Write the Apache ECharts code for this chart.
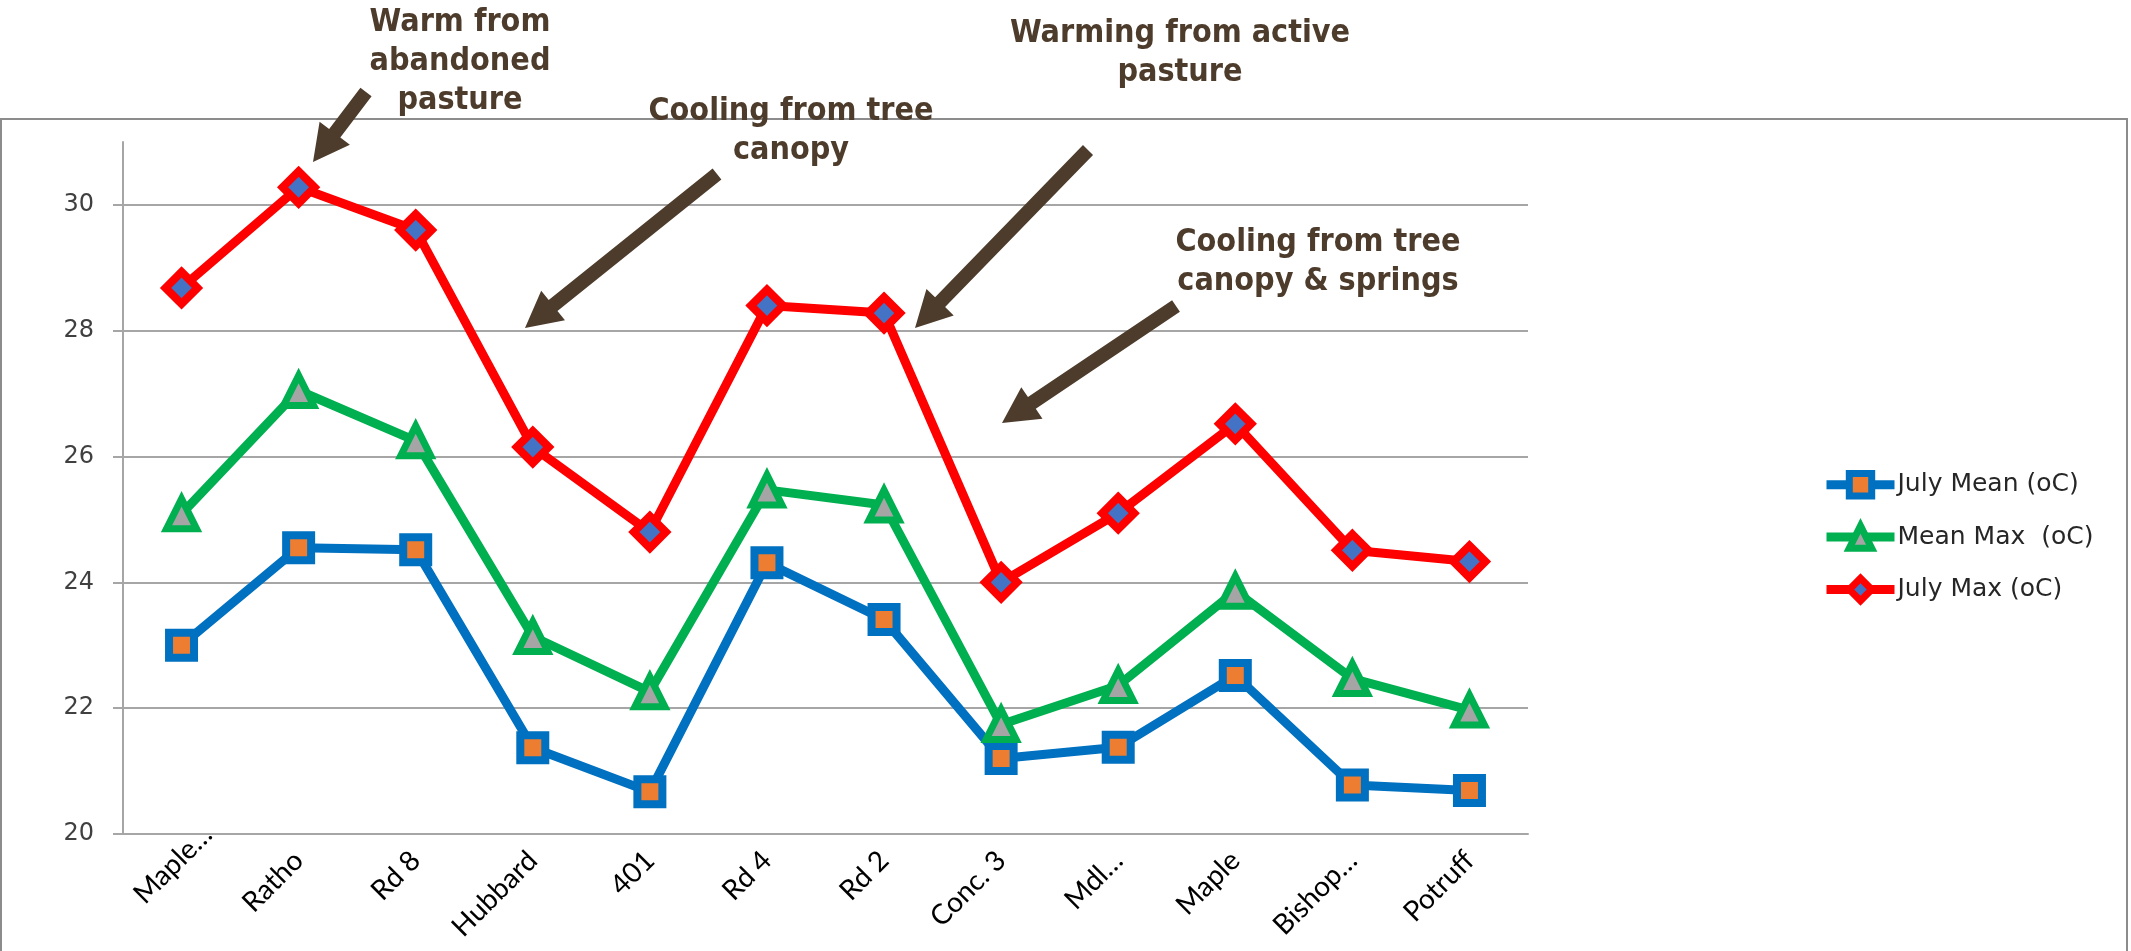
<!DOCTYPE html>
<html>
<head>
<meta charset="utf-8">
<title>July stream temperatures</title>
<script src="https://cdn.jsdelivr.net/npm/echarts@6/dist/echarts.min.js"></script>
<style>
  html, body { margin: 0; padding: 0; background: #fff; }
  #chart { width: 2131px; height: 951px; }
</style>
</head>
<body>
<div id="chart"></div>
<script>
// sites along the creek
var sites = ['Maple…', 'Ratho', 'Rd 8', 'Hubbard', '401', 'Rd 4', 'Rd 2', 'Conc. 3', 'Mdl…', 'Maple', 'Bishop…', 'Potruff']
var julyMean = [23.0, 24.55, 24.52, 21.37, 20.67, 24.31, 23.41, 21.2, 21.38, 22.52, 20.78, 20.69]
var meanMax = [25.09, 27.05, 26.25, 23.14, 22.26, 25.47, 25.23, 21.74, 22.36, 23.86, 22.47, 21.97]
var julyMax = [28.68, 30.28, 29.6, 26.15, 24.8, 28.4, 28.28, 24.0, 25.1, 26.52, 24.51, 24.33]
var yTicks = [20, 22, 24, 26, 28, 30]

var brown = '#4d3c2c'
var noteFont = 'bold 32px "DejaVu Sans Condensed"'

// arrow polygon from tail to tip (pixels)
function arrow(x1, y1, x2, y2) {
  var len = Math.hypot(x2 - x1, y2 - y1)
  var ux = (x2 - x1) / len
  var uy = (y2 - y1) / len
  var px = -uy
  var py = ux
  var hl = 36, hw = 19, sw = 7
  var bx = x2 - ux * hl
  var by = y2 - uy * hl
  return {
    type: 'polygon',
    shape: {
      points: [
        [x1 + px * sw, y1 + py * sw],
        [bx + px * sw, by + py * sw],
        [bx + px * hw, by + py * hw],
        [x2, y2],
        [bx - px * hw, by - py * hw],
        [bx - px * sw, by - py * sw],
        [x1 - px * sw, y1 - py * sw]
      ]
    },
    style: { fill: brown },
    z: 10
  }
}

function note(text, x, y) {
  return {
    type: 'text',
    x: x,
    y: y,
    style: {
      text: text,
      font: noteFont,
      fill: brown,
      align: 'center',
      lineHeight: 39
    },
    z: 10
  }
}

// the first (truncated) label sits a bit further up the slope in the original
var xData = sites.map(function(name, i) {
  if (i === 0) {
    return { value: name, textStyle: { padding: [0, 24, 0, 0], align: 'center' } }
  }
  return name
})

var chart = echarts.init(document.getElementById('chart'))

chart.setOption({
  animation: false,
  backgroundColor: '#fff',
  grid: {
    left: 123,
    right: 603,
    top: 142,
    bottom: 117
  },
  legend: {
    orient: 'vertical',
    left: 1822,
    top: 470,
    padding: 0,
    itemWidth: 68,
    itemHeight: 28,
    itemGap: 23,
    textStyle: {
      fontFamily: 'DejaVu Sans',
      fontSize: 25,
      color: '#262626',
      padding: [0, 0, 0, -2]
    },
    lineStyle: { width: 9 },
    itemStyle: { borderWidth: 7 },
    data: ['July Mean (oC)', 'Mean Max  (oC)', 'July Max (oC)']
  },
  xAxis: {
    type: 'category',
    data: xData,
    boundaryGap: true,
    axisLine: { lineStyle: { color: '#a6a6a6', width: 2 } },
    axisTick: { length: 10, lineStyle: { color: '#a6a6a6', width: 2 } },
    axisLabel: {
      interval: 0,
      rotate: 45,
      margin: 22,
      fontFamily: 'Lato',
      fontSize: 28,
      color: '#000'
    }
  },
  yAxis: {
    type: 'value',
    min: 20,
    max: 31,
    interval: 2,
    axisLine: { show: true, lineStyle: { color: '#a6a6a6', width: 2 } },
    axisTick: { show: true, length: 10, customValues: yTicks, lineStyle: { color: '#a6a6a6', width: 2 } },
    axisLabel: {
      customValues: yTicks,
      margin: 29,
      fontFamily: 'DejaVu Sans',
      fontSize: 24,
      color: '#404040'
    },
    splitLine: { lineStyle: { color: '#a6a6a6', width: 2 } }
  },
  series: [
    {
      name: 'July Mean (oC)',
      type: 'line',
      data: julyMean,
      symbol: 'rect',
      symbolSize: 25,
      lineStyle: { color: '#0070c0', width: 9 },
      itemStyle: { color: '#ed7d31', borderColor: '#0070c0', borderWidth: 8 }
    },
    {
      name: 'Mean Max  (oC)',
      type: 'line',
      data: meanMax,
      symbol: 'triangle',
      symbolSize: 30,
      lineStyle: { color: '#00b050', width: 9 },
      itemStyle: { color: '#a5a5a5', borderColor: '#00b050', borderWidth: 7 }
    },
    {
      name: 'July Max (oC)',
      type: 'line',
      data: julyMax,
      symbol: 'diamond',
      symbolSize: 32,
      lineStyle: { color: '#ff0000', width: 9 },
      itemStyle: { color: '#4472c4', borderColor: '#ff0000', borderWidth: 8 }
    }
  ],
  graphic: [
    // chart area frame
    {
      type: 'rect',
      shape: { x: 1, y: 119, width: 2126, height: 900 },
      style: { fill: null, stroke: '#8c8c8c', lineWidth: 2 },
      silent: true
    },
    note('Warm from\nabandoned\npasture', 460, 3),
    note('Cooling from tree\ncanopy', 791, 92),
    note('Warming from active\npasture', 1180, 14),
    note('Cooling from tree\ncanopy & springs', 1318, 223),
    arrow(366, 92, 313, 162),
    arrow(717, 174, 525, 328),
    arrow(1088, 150, 915, 328),
    arrow(1176, 306, 1002, 423)
  ]
})
</script>
</body>
</html>
